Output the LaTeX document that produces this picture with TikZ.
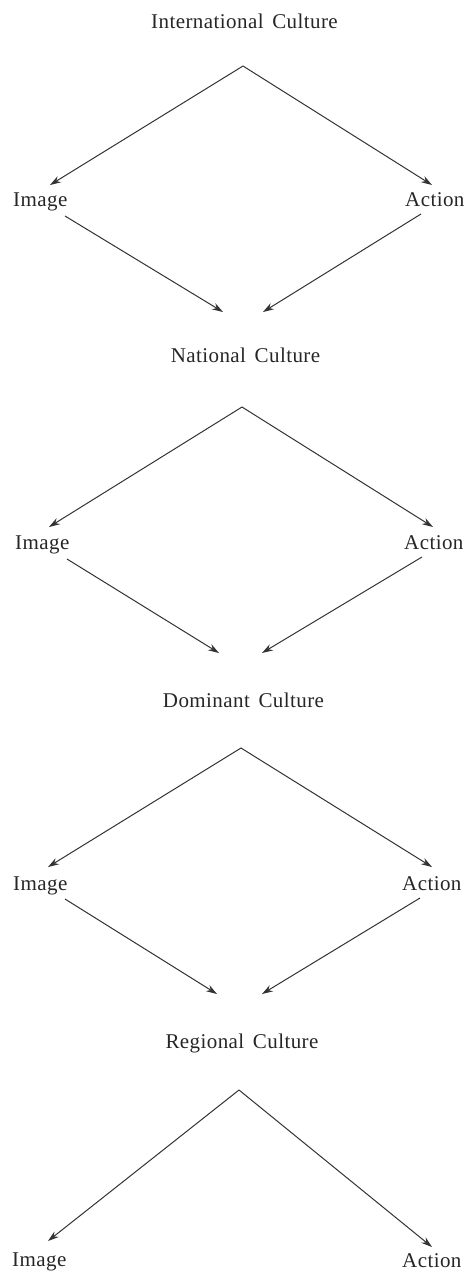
\documentclass[tikz,border=0pt]{standalone}
\usepackage{fontspec}
\setmainfont[LetterSpace=2]{Liberation Serif}
\usetikzlibrary{arrows.meta}
\begin{document}
\begin{tikzpicture}[x=1pt,y=-1pt,
  lbl/.style={inner sep=0pt,font=\fontsize{21}{25}\selectfont,text=black!85},
  title/.style={lbl,anchor=base},
  side/.style={lbl,anchor=base west},
  arr/.style={draw=black!80,line width=1pt,-{Stealth[length=11pt,width=7pt]}}]
\useasboundingbox (0,0) rectangle (469,1272);
% ---- block 1
\node[title] (t1) at (244.5,28) {International\hspace{3pt} Culture};
\coordinate (a1) at (243,66);
\coordinate (l1) at (50,185);
\coordinate (r1) at (432,185);
\node[side] (i1) at (13,206) {Image};
\node[side] (c1) at (405,206) {Action};
\coordinate (is1) at (65,216);
\coordinate (cs1) at (421,214);
\coordinate (b1l) at (223,312);
\coordinate (b1r) at (263,312);
\draw[arr] (a1) -- (l1);
\draw[arr] (a1) -- (r1);
\draw[arr] (is1) -- (b1l);
\draw[arr] (cs1) -- (b1r);
% ---- block 2
\node[title] (t2) at (245.5,362) {National\hspace{3pt} Culture};
\coordinate (a2) at (242,407);
\coordinate (l2) at (49,527);
\coordinate (r2) at (433,527);
\node[side] (i2) at (15,549) {Image};
\node[side] (c2) at (404,549) {Action};
\coordinate (is2) at (67,559);
\coordinate (cs2) at (422,557);
\coordinate (b2l) at (219,653);
\coordinate (b2r) at (262,653);
\draw[arr] (a2) -- (l2);
\draw[arr] (a2) -- (r2);
\draw[arr] (is2) -- (b2l);
\draw[arr] (cs2) -- (b2r);
% ---- block 3
\node[title] (t3) at (243.5,707) {Dominant\hspace{3pt} Culture};
\coordinate (a3) at (241,748);
\coordinate (l3) at (48,867);
\coordinate (r3) at (432,867);
\node[side] (i3) at (13,890) {Image};
\node[side] (c3) at (402,890) {Action};
\coordinate (is3) at (65,899);
\coordinate (cs3) at (420,898);
\coordinate (b3l) at (217,994);
\coordinate (b3r) at (262,994);
\draw[arr] (a3) -- (l3);
\draw[arr] (a3) -- (r3);
\draw[arr] (is3) -- (b3l);
\draw[arr] (cs3) -- (b3r);
% ---- block 4
\node[title] (t4) at (242,1048) {Regional\hspace{3pt} Culture};
\coordinate (a4) at (239,1090);
\coordinate (l4) at (48,1241);
\coordinate (r4) at (432,1247);
\node[side] (i4) at (12,1266) {Image};
\node[side] (c4) at (402,1267) {Action};
\draw[arr] (a4) -- (l4);
\draw[arr] (a4) -- (r4);
\end{tikzpicture}
\end{document}
